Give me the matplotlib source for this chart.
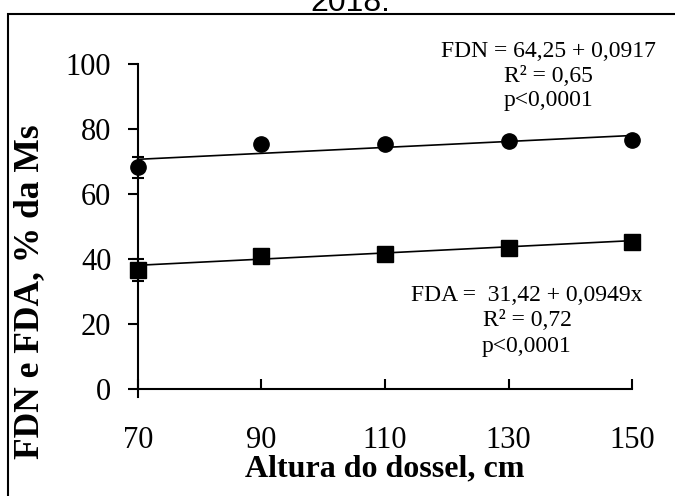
import matplotlib
matplotlib.use("Agg")
import matplotlib.pyplot as plt
import numpy as np
from matplotlib.patches import Rectangle

# ---- data ----
altura = [70, 90, 110, 130, 150]
fdn = [68.2, 75.3, 75.4, 76.2, 76.7]
fdn_err = [3.2, 1.0, 1.0, 1.0, 1.0]
fda = [36.6, 41.0, 41.6, 43.5, 45.3]
fda_err = [3.3, 1.0, 1.0, 1.0, 1.0]
fdn_coef = (64.25, 0.0917)   # intercept, slope
fda_coef = (31.42, 0.0949)
xticks = [70, 90, 110, 130, 150]
yticks = [0, 20, 40, 60, 80, 100]
fdn_text = "FDN = 64,25 + 0,0917\nR² = 0,65\np<0,0001"
fda_text = "FDA =  31,42 + 0,0949x\nR² = 0,72\np<0,0001"
title = "2018."
xlabel = "Altura do dossel, cm"
ylabel = "FDN e FDA, % da Ms"

plt.rcParams['font.family'] = ['Liberation Serif', 'DejaVu Serif']

W, H = 675, 496
fig = plt.figure(figsize=(W / 100, H / 100), dpi=100)
x0, x1, y0, y1 = 137.7, 632.3, 389.0, 64.0
ax = fig.add_axes([x0 / W, 1 - y0 / H, (x1 - x0) / W, (y0 - y1) / H])

# regression lines
xl = np.array([altura[0], altura[-1]], dtype=float)
ax.plot(xl, fdn_coef[0] + fdn_coef[1] * xl, color='black', lw=1.2, clip_on=False, zorder=2)
ax.plot(xl, fda_coef[0] + fda_coef[1] * xl, color='black', lw=1.2, clip_on=False, zorder=2)

# error bars + markers
ax.errorbar(altura, fdn, yerr=fdn_err, fmt='none', ecolor='black', elinewidth=1.5,
            capsize=4.5, capthick=1.5, clip_on=False, zorder=3)
ax.errorbar(altura, fda, yerr=fda_err, fmt='none', ecolor='black', elinewidth=1.5,
            capsize=4.5, capthick=1.5, clip_on=False, zorder=3)
ax.plot(altura, fdn, linestyle='none', marker='o', markersize=11, color='black',
        clip_on=False, zorder=4)
ax.plot(altura, fda, linestyle='none', marker='s', markersize=12, color='black',
        clip_on=False, zorder=4)

ax.set_xlim(70, 150)
ax.set_ylim(0, 100)
ax.set_xticks(xticks)
ax.set_yticks(yticks)
ax.spines['top'].set_visible(False)
ax.spines['right'].set_visible(False)
for s in ('left', 'bottom'):
    ax.spines[s].set_linewidth(1.5)
ax.spines['left'].set_bounds(-2.5, 100)
ax.tick_params(axis='y', direction='out', length=7, width=1.5, pad=12, labelsize=22)
ax.tick_params(axis='x', direction='in', length=7, width=1.5, pad=27, labelsize=22)

# annotations
fig.text(548 / W, 1 - 76 / H, fdn_text, ha='center', va='center', ma='center',
         fontsize=17, linespacing=1.2)
fig.text(527 / W, 1 - 321 / H, fda_text, ha='center', va='center', ma='center',
         fontsize=17, linespacing=1.3)

# axis labels
fig.text(385 / W, 1 - 469 / H, xlabel, ha='center', va='center', fontsize=23, fontweight='bold')
fig.text(30 / W, 1 - 292 / H, ylabel, ha='center', va='center', rotation=90,
         fontsize=25.5, fontweight='bold')

# title (cut at top, as in the reference) and frame
fig.text(350 / W, 1 - 11 / H, title, ha='center', va='baseline', fontsize=23,
         family='Liberation Sans')
fig.add_artist(Rectangle((8 / W, -0.1), 1.2, (1 - 14 / H) + 0.1, transform=fig.transFigure,
                         fill=False, lw=1.5, edgecolor='black', clip_on=False))

fig.savefig("out.png", dpi=100)
